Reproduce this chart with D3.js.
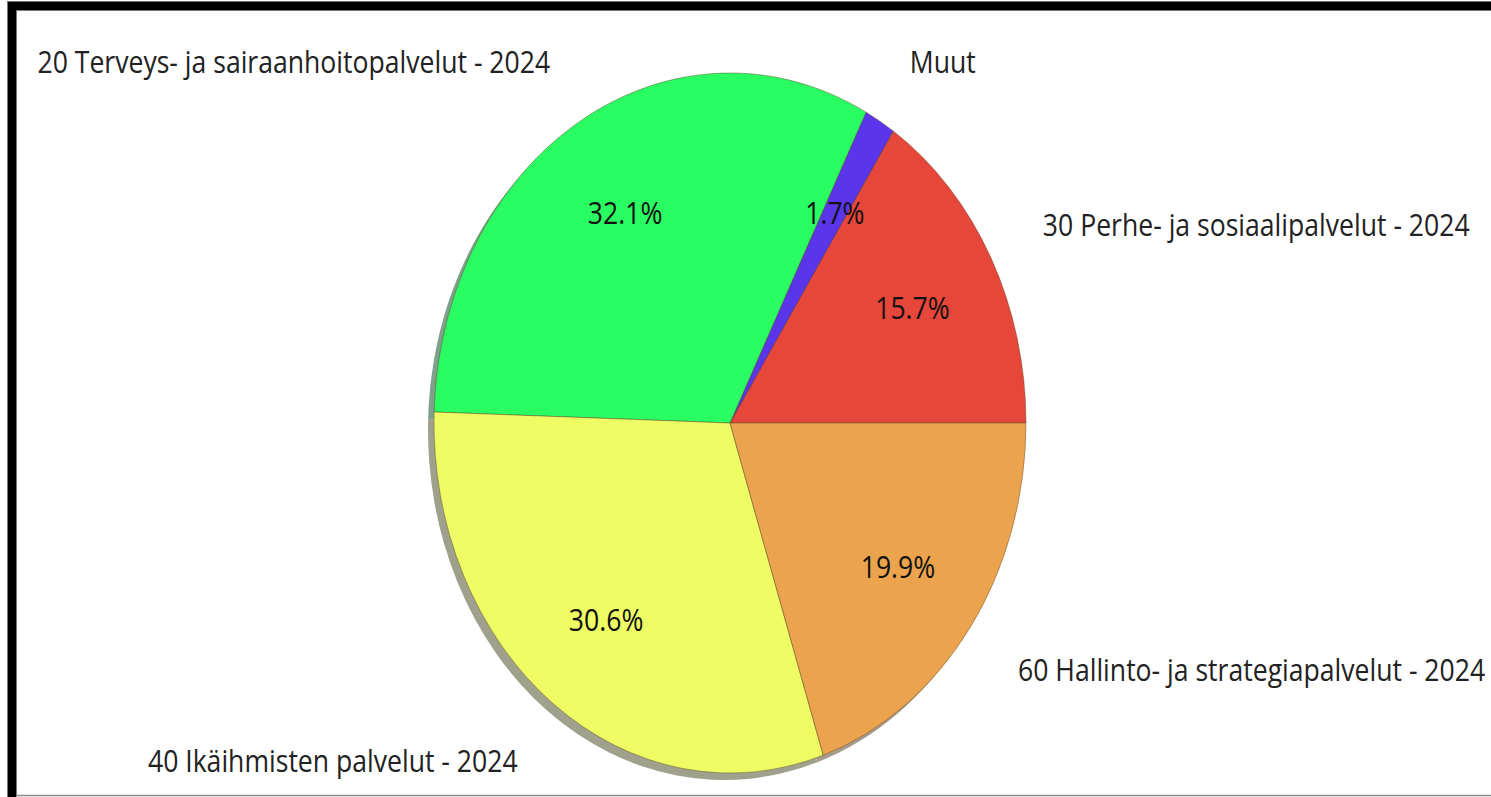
<!DOCTYPE html>
<html>
<head>
<meta charset="utf-8">
<script src="https://cdn.jsdelivr.net/npm/d3@7"></script>
<style>
html,body{margin:0;padding:0;background:#fff;overflow:hidden;}
svg{display:block;}
text{font-family:"Open Sans",sans-serif;}
</style>
</head>
<body>
<svg id="chart" width="1491" height="797"></svg>
<script>
const categories = [
  "30 Perhe- ja sosiaalipalvelut - 2024",
  "Muut",
  "20 Terveys- ja sairaanhoitopalvelut - 2024",
  "40 Ikäihmisten palvelut - 2024",
  "60 Hallinto- ja strategiapalvelut - 2024"
];
const values = [15.7, 1.7, 32.1, 30.6, 19.9];
const colors = ["#e7463a", "#5a35eb", "#2afd61", "#eefd63", "#eba34d"];
const shadowColors = ["#a58c86", "#8b86a8", "#7fa08c", "#a0a18c", "#a69a8a"];

const W = 1491, H = 797;
const cx = 730, cy = 423, rx = 296, ry = 350;
const ky = ry / rx;

const svg = d3.select("#chart");

// frame
svg.append("rect").attr("x", 7.5).attr("y", 1.5).attr("width", 9).attr("height", H).attr("fill", "#000").attr("stroke", "#777").attr("stroke-width", 1);
svg.append("rect").attr("x", 7.5).attr("y", 1.5).attr("width", W).attr("height", 9).attr("fill", "#000").attr("stroke", "#777").attr("stroke-width", 1);
svg.append("rect").attr("x", 8).attr("y", 2).attr("width", 8).attr("height", H).attr("fill", "#000");
svg.append("line").attr("x1", 16).attr("x2", W).attr("y1", 795.5).attr("y2", 795.5).attr("stroke", "#8a8a8a").attr("stroke-width", 1.5);

// pie: counterclockwise from 3 o'clock
const pie = d3.pie().sort(null).value(d => d)
  .startAngle(Math.PI / 2).endAngle(Math.PI / 2 - 2 * Math.PI);
const arcs = pie(values);

const arc = d3.arc().innerRadius(0).outerRadius(rx);
const labelArc = d3.arc().innerRadius(rx * 0.7).outerRadius(rx * 0.7);
const outerArc = d3.arc().innerRadius(rx * 1.2).outerRadius(rx * 1.2);

// shadow
const sh = svg.append("g").attr("transform", `translate(${cx - 6},${cy + 7}) scale(1,${ky})`);
sh.selectAll("path").data(arcs).enter().append("path")
  .attr("d", arc)
  .attr("fill", (d, i) => shadowColors[i]);

const g = svg.append("g").attr("transform", `translate(${cx},${cy}) scale(1,${ky})`);
g.selectAll("path.slice").data(arcs).enter().append("path")
  .attr("class", "slice")
  .attr("d", arc)
  .attr("fill", (d, i) => colors[i])
  .attr("stroke", "rgba(90,70,40,0.45)")
  .attr("stroke-width", 1)
  .attr("vector-effect", "non-scaling-stroke");

g.selectAll("text.pct").data(arcs).enter().append("text")
  .attr("class", "pct")
  .attr("transform", d => `translate(${labelArc.centroid(d)})`)
  .attr("text-anchor", "middle")
  .attr("dominant-baseline", "central")
  .attr("font-size", 26.6)
  .attr("fill", "#111")
  .text(d => d.value.toFixed(1) + "%");

g.selectAll("text.cat").data(arcs).enter().append("text")
  .attr("class", "cat")
  .attr("transform", d => `translate(${outerArc.centroid(d)})`)
  .attr("text-anchor", d => outerArc.centroid(d)[0] >= 0 ? "start" : "end")
  .attr("dominant-baseline", "central")
  .attr("font-size", 26.6)
  .attr("fill", "#222")
  .text((d, i) => categories[i]);
</script>
</body>
</html>
